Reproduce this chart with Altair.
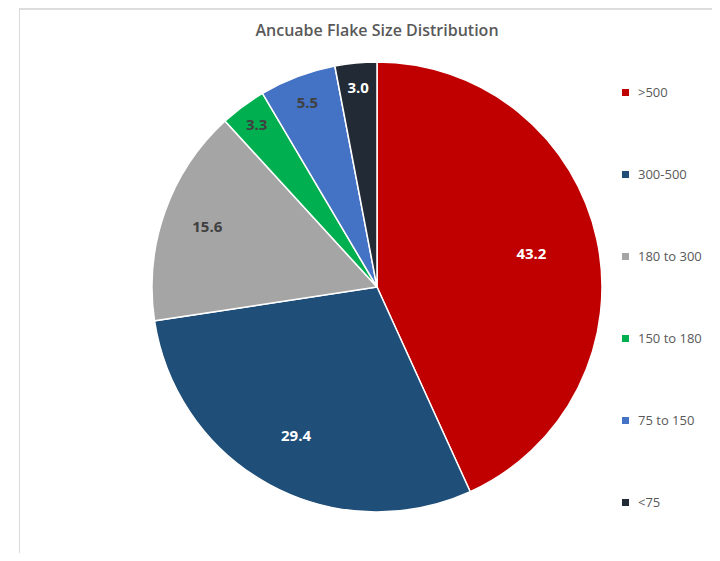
import altair as alt
import pandas as pd

# ---- data ----
categories = [">500", "300-500", "180 to 300", "150 to 180", "75 to 150", "<75"]
values = [43.2, 29.4, 15.6, 3.3, 5.5, 3.0]
labels = ["43.2", "29.4", "15.6", "3.3", "5.5", "3.0"]

# ---- styles ----
colors = ["#C00000", "#1F4E79", "#A5A5A5", "#00B050", "#4472C4", "#222A35"]
label_colors = ["#FFFFFF", "#FFFFFF", "#404040", "#404040", "#404040", "#FFFFFF"]
label_r = [158, 170, 180, 202, 197, 200]

W, H = 704, 545
CX, CY, R = 369, 279, 225

df = pd.DataFrame({
    "cat": categories,
    "val": values,
    "lab": labels,
    "idx": list(range(len(categories))),
    "lc": label_colors,
    "lr": label_r,
})

theta_scale = alt.Scale(domain=[0, 100])

pie = alt.Chart(df).mark_arc(outerRadius=R, stroke="white", strokeWidth=1.5).encode(
    theta=alt.Theta("val:Q", stack=True, scale=theta_scale),
    order=alt.Order("idx:Q"),
    x=alt.value(CX), y=alt.value(CY),
    color=alt.Color(
        "cat:N",
        scale=alt.Scale(domain=categories, range=colors),
        sort=categories,
        legend=alt.Legend(
            title=None,
            orient="none",
            legendX=611,
            legendY=78,
            symbolType="square",
            symbolSize=49,
            symbolStrokeWidth=0,
            labelFont="Open Sans",
            labelFontSize=13,
            labelColor="#595959",
            labelOffset=6,
            rowPadding=68,
        ),
    ),
)

text = alt.Chart(df).transform_window(
    cum="sum(val)", sort=[alt.SortField("idx")], frame=[None, 0]
).transform_calculate(
    mid="datum.cum - datum.val / 2"
).mark_text(font="Open Sans", fontSize=15, fontWeight="bold").encode(
    theta=alt.Theta("mid:Q", stack=None, scale=theta_scale),
    x=alt.value(CX), y=alt.value(CY),
    radius=alt.Radius("lr:Q", scale=None),
    text="lab:N",
    color=alt.Color("lc:N", scale=None),
)

frame_df = pd.DataFrame({"a": [0]})
top_line = alt.Chart(frame_df).mark_rule(color="#D0D0D0", strokeWidth=1.5).encode(
    x=alt.value(11), x2=alt.value(W), y=alt.value(1)
)
left_line = alt.Chart(frame_df).mark_rule(color="#D9D9D9", strokeWidth=1).encode(
    x=alt.value(11.5), y=alt.value(0), y2=alt.value(H)
)
title = alt.Chart(frame_df).mark_text(
    font="Open Sans", fontSize=16, fontWeight=600, color="#595959"
).encode(x=alt.value(CX), y=alt.value(23), text=alt.value("Ancuabe Flake Size Distribution"))

chart = alt.layer(top_line, left_line, pie, text, title).properties(
    width=W, height=H, padding=0,
    autosize=alt.AutoSizeParams(type="none"),
).configure_view(stroke=None)

chart.save("out.html", embed_options={"renderer": "svg", "actions": False})
